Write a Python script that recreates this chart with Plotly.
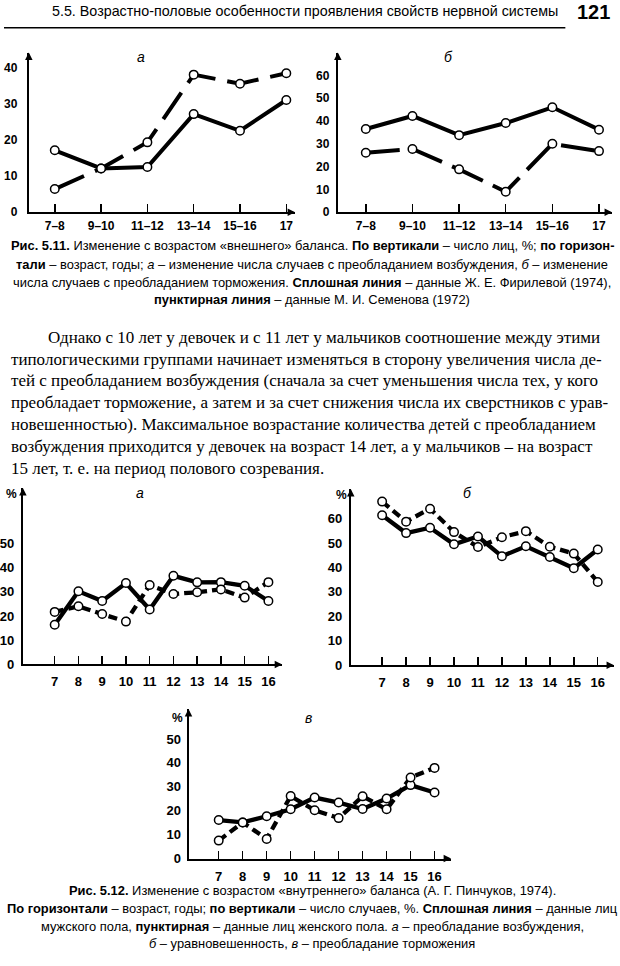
import plotly.graph_objects as go

W, H = 620, 966

# ---------------- data: Fig. 5.11 ----------------
age_groups_511 = ["7–8", "9–10", "11–12", "13–14", "15–16", "17"]
a511_solid = [17.1, 12.1, 12.5, 27.1, 22.5, 31.0]
a511_dashed = [6.4, 12.1, 19.3, 38.0, 35.5, 38.4]
b511_solid = [36.5, 42.2, 33.8, 39.1, 46.0, 36.2]
b511_dashed = [26.1, 27.7, 18.8, 9.0, 30.0, 26.8]
yticks_511a = [0, 10, 20, 30, 40]
yticks_511b = [0, 10, 20, 30, 40, 50, 60]

# ---------------- data: Fig. 5.12 ----------------
ages_512 = ["7", "8", "9", "10", "11", "12", "13", "14", "15", "16"]
a512_male = [16.4, 30.2, 26.2, 33.6, 22.7, 36.6, 33.9, 34.0, 32.5, 26.2]
a512_female = [21.7, 24.0, 20.8, 17.7, 32.8, 29.1, 29.8, 31.0, 27.6, 34.0]
b512_male = [61.4, 54.1, 56.3, 49.5, 52.7, 44.6, 48.7, 44.3, 39.7, 47.4]
b512_female = [67.0, 58.8, 64.1, 54.5, 48.4, 52.4, 54.9, 48.5, 45.7, 34.1]
v512_male = [16.1, 15.1, 17.7, 20.6, 25.5, 23.4, 20.7, 25.1, 30.7, 27.6]
v512_female = [7.5, 15.1, 8.2, 26.1, 20.2, 16.9, 26.0, 20.6, 33.9, 37.9]
yticks_512a = [0, 10, 20, 30, 40, 50]
yticks_512b = [0, 10, 20, 30, 40, 50, 60]
yticks_512v = [0, 10, 20, 30, 40, 50]

SANS = "Liberation Sans, Arial, sans-serif"
SERIF = "Liberation Serif, Times New Roman, serif"


def px(x):
    return x / W


def py(y):
    return 1 - y / H


panels = [
    dict(cats=age_groups_511, s=a511_solid, d=a511_dashed, yt=yticks_511a,
         x0=25, x1=293, yb=214, ytop=53, xr=[-0.56, 5.19], yr=[0, 44.1],
         dash="32px,12px", lw=4, tf=12, letter="а", lx=138, ly=57, pct=None,
         ystand=7, xstand=1),
    dict(cats=age_groups_511, s=b511_solid, d=b511_dashed, yt=yticks_511b,
         x0=336, x1=612, yb=214, ytop=53, xr=[-0.6, 5.28], yr=[0, 70],
         dash="34px,11px", lw=4, tf=12, letter="б", lx=447, ly=57, pct=None,
         ystand=4, xstand=1),
    dict(cats=ages_512, s=a512_male, d=a512_female, yt=yticks_512a,
         x0=19, x1=280, yb=670, ytop=492, xr=[-1.34, 9.58], yr=[0, 72.9],
         dash="9px,5px", lw=4.3, tf=13, letter="а", lx=137, ly=497, pct=(8, 498),
         ystand=4, xstand=4),
    dict(cats=ages_512, s=b512_male, d=b512_female, yt=yticks_512b,
         x0=349, x1=614, yb=670.7, ytop=493, xr=[-1.31, 9.68], yr=[0, 72.2],
         dash="9px,5px", lw=4.3, tf=13, letter="б", lx=467, ly=497, pct=(340, 499),
         ystand=4, xstand=4),
    dict(cats=ages_512, s=v512_male, d=v512_female, yt=yticks_512v,
         x0=185.7, x1=450, yb=865.7, ytop=715, xr=[-1.26, 9.69], yr=[0, 62.5],
         dash="9px,5px", lw=4.3, tf=13, letter="в", lx=306, ly=724, pct=(175, 724),
         ystand=3, xstand=5),
]

fig = go.Figure()
annotations = []
layout_axes = {}

for i, p in enumerate(panels, start=1):
    xa = "x" if i == 1 else f"x{i}"
    ya = "y" if i == 1 else f"y{i}"
    fig.add_trace(go.Scatter(x=p["cats"], y=p["s"], mode="lines", xaxis=xa, yaxis=ya,
                             line=dict(color="black", width=p["lw"]), showlegend=False,
                             hoverinfo="skip"))
    fig.add_trace(go.Scatter(x=p["cats"], y=p["d"], mode="lines", xaxis=xa, yaxis=ya,
                             line=dict(color="black", width=p["lw"], dash=p["dash"]),
                             showlegend=False, hoverinfo="skip"))
    for vals in (p["s"], p["d"]):
        fig.add_trace(go.Scatter(x=p["cats"], y=vals, mode="markers", xaxis=xa, yaxis=ya,
                                 marker=dict(symbol="circle", size=8.5, color="white",
                                             line=dict(color="black", width=1.5)),
                                 showlegend=False, hoverinfo="skip"))
    xkey = "xaxis" if i == 1 else f"xaxis{i}"
    ykey = "yaxis" if i == 1 else f"yaxis{i}"
    layout_axes[xkey] = dict(
        domain=[px(p["x0"]), px(p["x1"])], anchor=ya, type="category",
        categoryorder="array", categoryarray=p["cats"], range=p["xr"],
        showline=True, linecolor="black", linewidth=2, showgrid=False, zeroline=False,
        ticks="inside", ticklen=8, tickwidth=1.5, tickcolor="black",
        tickfont=dict(family=SANS, size=p["tf"], color="black", weight="bold"),
        ticklabelstandoff=p["xstand"], fixedrange=True,
    )
    layout_axes[ykey] = dict(
        domain=[py(p["yb"]), py(p["ytop"])], anchor=xa, range=p["yr"],
        tickmode="array", tickvals=p["yt"], ticktext=[str(v) for v in p["yt"]],
        showline=True, linecolor="black", linewidth=2, showgrid=False, zeroline=False,
        ticks="", tickfont=dict(family=SANS, size=p["tf"], color="black", weight="bold"),
        ticklabelstandoff=p["ystand"], fixedrange=True,
    )
    annotations.append(dict(x=px(p["x1"]), y=py(p["yb"]), xref="paper", yref="paper",
                            ax=-7, ay=0, showarrow=True, arrowhead=2, arrowsize=1,
                            arrowwidth=1.5, arrowcolor="black", text=""))
    annotations.append(dict(x=px(p["x0"]), y=py(p["ytop"]), xref="paper", yref="paper",
                            ax=0, ay=7, showarrow=True, arrowhead=2, arrowsize=1,
                            arrowwidth=1.5, arrowcolor="black", text=""))
    annotations.append(dict(x=px(p["lx"]), y=py(p["ly"]), xref="paper", yref="paper",
                            text=f"<i>{p['letter']}</i>", showarrow=False,
                            font=dict(family=SANS, size=14, color="black"),
                            xanchor="center", yanchor="middle"))
    if p["pct"]:
        annotations.append(dict(x=px(p["pct"][0]), y=py(p["pct"][1]), xref="paper",
                                yref="paper", text="<b>%</b>", showarrow=False,
                                font=dict(family=SANS, size=12, color="black"),
                                xanchor="center", yanchor="middle"))


def text(x, y, s, font=SANS, size=13, anchor="center"):
    annotations.append(dict(x=px(x), y=py(y), xref="paper", yref="paper", text=s,
                            showarrow=False, xanchor=anchor, yanchor="middle",
                            font=dict(family=font, size=size, color="black")))


# header
text(560, 11, "5.5. Возрастно-половые особенности проявления свойств нервной системы",
     size=14.3, anchor="right")
text(612, 12, "<b>121</b>", size=20, anchor="right")

# caption 5.11
cap511 = [
    "<b>Рис. 5.11.</b> Изменение с возрастом «внешнего» баланса. <b>По вертикали</b> – число лиц, %; <b>по горизон-</b>",
    "<b>тали</b> – возраст, годы; <i>а</i> – изменение числа случаев с преобладанием возбуждения, <i>б</i> – изменение",
    "числа случаев с преобладанием торможения. <b>Сплошная линия</b> – данные Ж. Е. Фирилевой (1974),",
    "<b>пунктирная линия</b> – данные М. И. Семенова (1972)",
]
for s, y in zip(cap511, [248, 266.5, 285, 302]):
    text(310, y, s, size=12.9)

# body paragraph
body = [
    "Однако с 10 лет у девочек и с 11 лет у мальчиков соотношение между этими",
    "типологическими группами начинает изменяться в сторону увеличения числа де-",
    "тей с преобладанием возбуждения (сначала за счет уменьшения числа тех, у кого",
    "преобладает торможение, а затем и за счет снижения числа их сверстников с урав-",
    "новешенностью). Максимальное возрастание количества детей с преобладанием",
    "возбуждения приходится у девочек на возраст 14 лет, а у мальчиков – на возраст",
    "15 лет, т. е. на период полового созревания.",
]
for k, s in enumerate(body):
    text(42 if k == 0 else 5, 340 + 22 * k, s, font=SERIF, size=17.0, anchor="left")

# caption 5.12
cap512 = [
    "<b>Рис. 5.12.</b> Изменение с возрастом «внутреннего» баланса (А. Г. Пинчуков, 1974).",
    "<b>По горизонтали</b> – возраст, годы; <b>по вертикали</b> – число случаев, %. <b>Сплошная линия</b> – данные лиц",
    "мужского пола, <b>пунктирная</b> – данные лиц женского пола. <i>а</i> – преобладание возбуждения,",
    "<i>б</i> – уравновешенность, <i>в</i> – преобладание торможения",
]
for s, y in zip(cap512, [898, 916, 934, 951]):
    text(310, y, s, size=12.9)

fig.update_layout(
    width=W, height=H, margin=dict(l=0, r=0, t=0, b=0), autosize=False,
    paper_bgcolor="white", plot_bgcolor="white",
    annotations=annotations,
    shapes=[dict(type="line", xref="paper", yref="paper", x0=0, x1=px(565),
                 y0=py(28), y1=py(28), line=dict(color="black", width=1.5))],
    **layout_axes,
)

fig.write_html("out.html", config={"displayModeBar": False, "staticPlot": True},
               post_script="document.body.style.margin='0';document.body.style.padding='0';")
